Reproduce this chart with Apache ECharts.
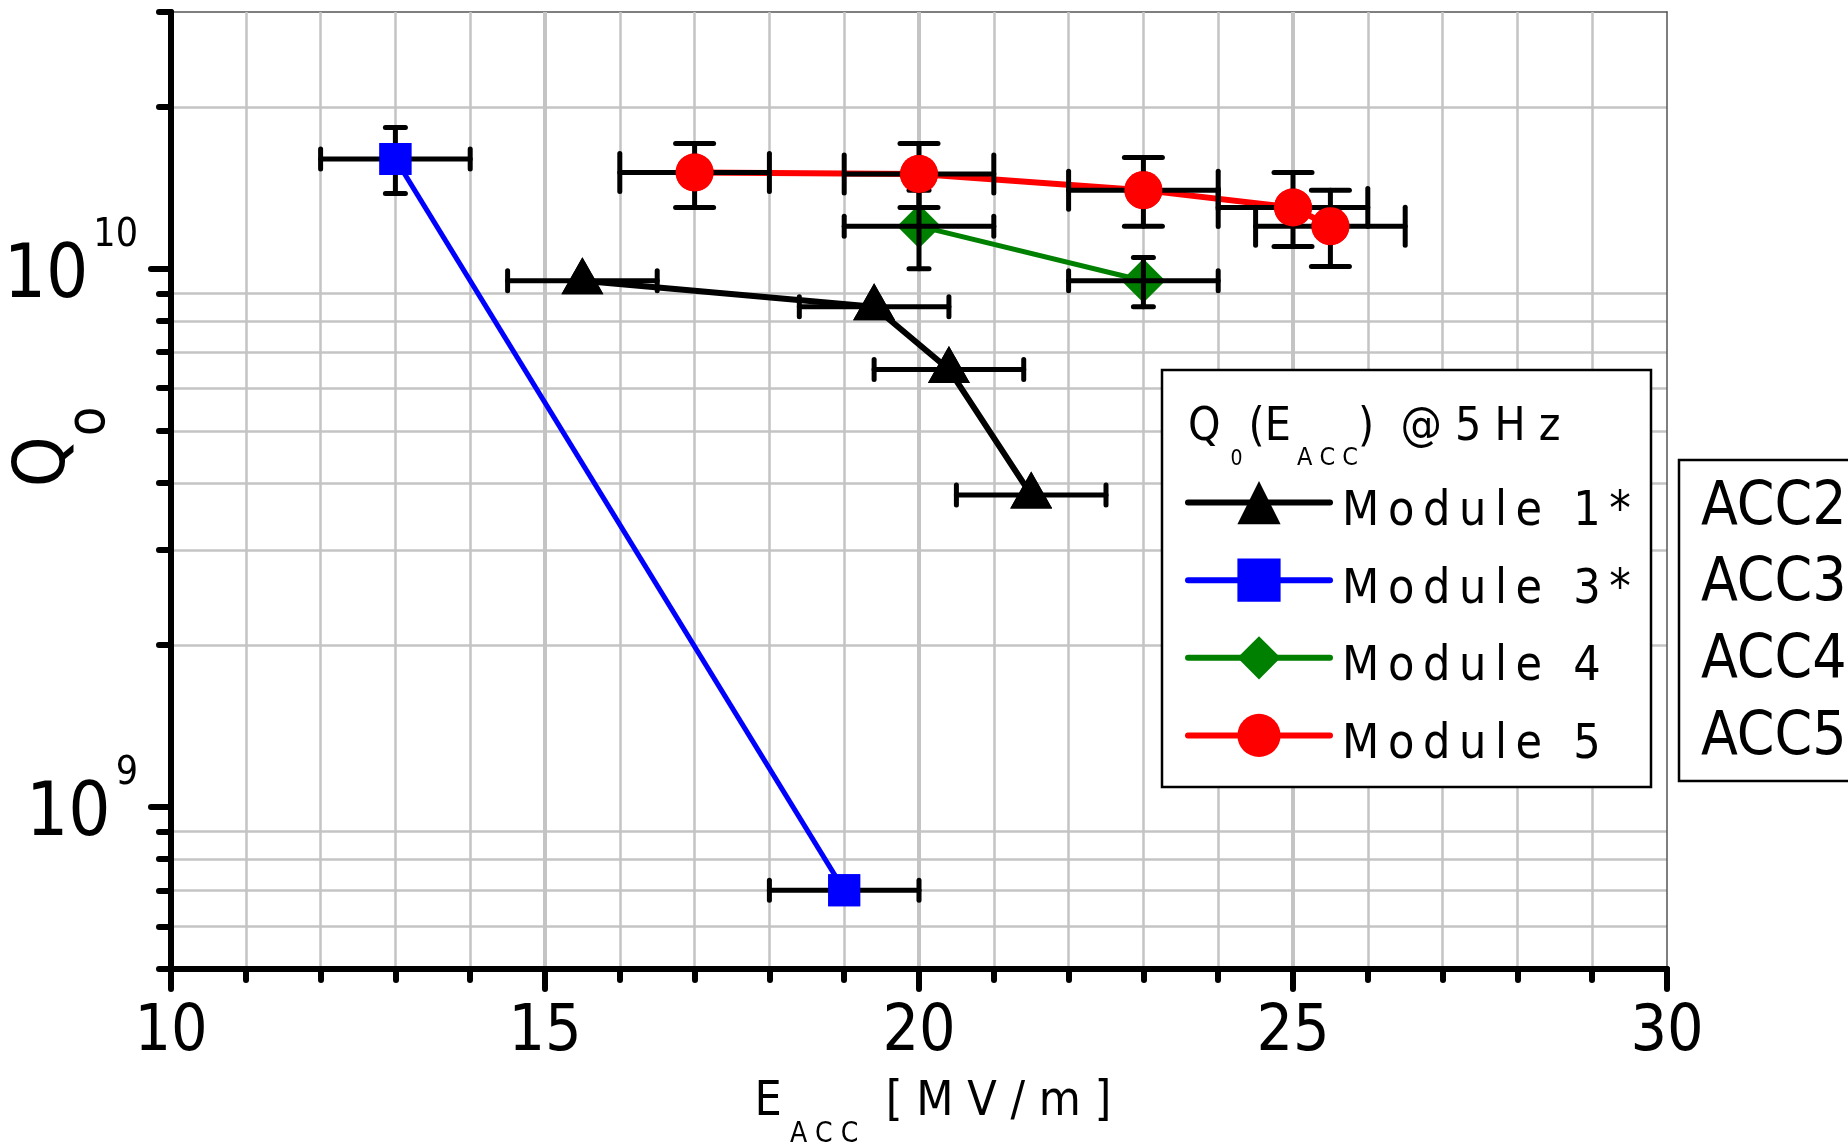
<!DOCTYPE html>
<html>
<head>
<meta charset="utf-8">
<script src="https://cdn.jsdelivr.net/npm/echarts@6/dist/echarts.min.js"></script>
<style>
html,body{margin:0;padding:0;background:#fff;}
#chart{width:1848px;height:1148px;}
</style>
</head>
<body>
<div id="chart"></div>
<script>
// ---------- data ----------
const xTickValues = [10, 15, 20, 25, 30];
const yMajorTicks = [1e9, 1e10];
const yMinorTicks = [5e8, 6e8, 7e8, 8e8, 9e8, 2e9, 3e9, 4e9, 5e9, 6e9, 7e9, 8e9, 9e9, 2e10, 3e10];

const seriesNames = ['Module 1*', 'Module 3*', 'Module 4', 'Module 5'];
const TS = '\u2009';
const legendLabels = [
  ['M','o','d','u','l','e'].join(TS) + ' ' + TS + TS + '1' + TS + '*',
  ['M','o','d','u','l','e'].join(TS) + ' ' + TS + TS + '3' + TS + '*',
  ['M','o','d','u','l','e'].join(TS) + ' ' + TS + TS + '4',
  ['M','o','d','u','l','e'].join(TS) + ' ' + TS + TS + '5'
];
const accLabels = ['ACC2', 'ACC3', 'ACC4', 'ACC5'];

// Module 1*
const m1_E    = [15.5, 19.4, 20.4, 21.5];
const m1_Q    = [9.5e9, 8.5e9, 6.5e9, 3.8e9];
const m1_Elo  = [14.5, 18.4, 19.4, 20.5];
const m1_Ehi  = [16.5, 20.4, 21.4, 22.5];
const m1_Qlo  = [9.5e9, 8.5e9, 6.5e9, 3.8e9];
const m1_Qhi  = [9.5e9, 8.5e9, 6.5e9, 3.8e9];
// Module 3*
const m3_E    = [13, 19];
const m3_Q    = [1.6e10, 7.0e8];
const m3_Elo  = [12, 18];
const m3_Ehi  = [14, 20];
const m3_Qlo  = [1.38e10, 6.85e8];
const m3_Qhi  = [1.83e10, 7.15e8];
// Module 4
const m4_E    = [20, 23];
const m4_Q    = [1.2e10, 9.5e9];
const m4_Elo  = [19, 22];
const m4_Ehi  = [21, 24];
const m4_Qlo  = [1.0e10, 8.5e9];
const m4_Qhi  = [1.4e10, 1.05e10];
// Module 5
const m5_E    = [17, 20, 23, 25, 25.5];
const m5_Q    = [1.51e10, 1.50e10, 1.40e10, 1.30e10, 1.20e10];
const m5_Elo  = [16, 19, 22, 24, 24.5];
const m5_Ehi  = [18, 21, 24, 26, 26.5];
const m5_Qlo  = [1.30e10, 1.30e10, 1.20e10, 1.10e10, 1.01e10];
const m5_Qhi  = [1.71e10, 1.71e10, 1.61e10, 1.51e10, 1.40e10];

// ---------- helpers ----------
const NARROW = "'Liberation Sans Narrow', 'DejaVu Sans Condensed', 'Arial Narrow', sans-serif";
const pts = (E, Q) => E.map((e, i) => [e, Q[i]]);
const errPts = (E, Q, El, Eh, Ql, Qh) => E.map((e, i) => [e, Q[i], El[i], Eh[i], Ql[i], Qh[i]]);

function errRender(capLen) {
  return function (params, api) {
    const x = api.value(0), y = api.value(1);
    const xl = api.value(2), xh = api.value(3), yl = api.value(4), yh = api.value(5);
    const c = api.coord([x, y]);
    const L = api.coord([xl, y]), H = api.coord([xh, y]);
    const st = {stroke: '#000', lineWidth: 5, lineCap: 'round'};
    const h = capLen / 2;
    const ch = [
      {type: 'line', shape: {x1: L[0], y1: c[1], x2: H[0], y2: c[1]}, style: st},
      {type: 'line', shape: {x1: L[0], y1: c[1] - h, x2: L[0], y2: c[1] + h}, style: st},
      {type: 'line', shape: {x1: H[0], y1: c[1] - h, x2: H[0], y2: c[1] + h}, style: st}
    ];
    if (yl !== yh) {
      const B = api.coord([x, yl]), T = api.coord([x, yh]);
      ch.push({type: 'line', shape: {x1: c[0], y1: B[1], x2: c[0], y2: T[1]}, style: st});
      ch.push({type: 'line', shape: {x1: c[0] - h, y1: B[1], x2: c[0] + h, y2: B[1]}, style: st});
      ch.push({type: 'line', shape: {x1: c[0] - h, y1: T[1], x2: c[0] + h, y2: T[1]}, style: st});
    }
    return {type: 'group', children: ch};
  };
}

const mods = [
  {name: seriesNames[0], color: '#000000', lw: 6, symbol: 'triangle', size: [42, 37], off: [0, -5], cap: 20, over: true,
   data: pts(m1_E, m1_Q), err: errPts(m1_E, m1_Q, m1_Elo, m1_Ehi, m1_Qlo, m1_Qhi)},
  {name: seriesNames[1], color: '#0000ff', lw: 5, symbol: 'rect', size: 32, off: [0, 0], cap: 20, over: true,
   data: pts(m3_E, m3_Q), err: errPts(m3_E, m3_Q, m3_Elo, m3_Ehi, m3_Qlo, m3_Qhi)},
  {name: seriesNames[2], color: '#008000', lw: 5, symbol: 'diamond', size: [44, 44], off: [0, 0], cap: 20, over: false,
   data: pts(m4_E, m4_Q), err: errPts(m4_E, m4_Q, m4_Elo, m4_Ehi, m4_Qlo, m4_Qhi)},
  {name: seriesNames[3], color: '#ff0000', lw: 6, symbol: 'circle', size: 38, off: [0, 0], cap: 38, over: true,
   data: pts(m5_E, m5_Q), err: errPts(m5_E, m5_Q, m5_Elo, m5_Ehi, m5_Qlo, m5_Qhi)}
];

const series = [];
mods.forEach(m => {
  series.push({
    type: 'line', name: m.name, data: m.data, z: 2,
    symbol: m.symbol, symbolSize: m.size, symbolOffset: m.off, showSymbol: true,
    itemStyle: {color: m.color}, lineStyle: {color: m.color, width: m.lw},
    animation: false, silent: true
  });
  series.push({
    type: 'custom', name: m.name + ' err', data: m.err, z: 3,
    encode: {x: 0, y: 1}, renderItem: errRender(m.cap), animation: false, silent: true
  });
  if (m.over) {
    series.push({
      type: 'scatter', name: m.name + ' mk', data: m.data, z: 4,
      symbol: m.symbol, symbolSize: m.size, symbolOffset: m.off,
      itemStyle: {color: m.color, opacity: 1}, animation: false, silent: true
    });
  }
});

const gridColor = '#c4c4c4';
const blackLine = {color: '#000', width: 6, cap: 'round'};

const option = {
  backgroundColor: '#fff',
  animation: false,
  grid: {left: 171, right: 181, top: 12, bottom: 179, containLabel: false, outerBoundsMode: 'none', show: false},
  xAxis: [{
    type: 'value', min: xTickValues[0], max: xTickValues[xTickValues.length - 1], interval: 5, position: 'bottom', z: 1,
    axisLine: {show: true, onZero: false, lineStyle: blackLine},
    axisTick: {show: true, length: 20, lineStyle: blackLine},
    minorTick: {show: true, splitNumber: 5, length: 11, lineStyle: blackLine},
    splitLine: {show: true, showMinLine: false, showMaxLine: false, lineStyle: {color: gridColor, width: 4}},
    minorSplitLine: {show: true, lineStyle: {color: gridColor, width: 2.5}},
    axisLabel: {fontSize: 64, margin: 32, color: '#000', fontFamily: NARROW},
    name: '{e|E}{s| A C C}{u|  [ M V / m ]}',
    nameLocation: 'middle', nameGap: 88, nameMoveOverlap: false,
    nameTextStyle: {
      color: '#000', fontFamily: NARROW, padding: [0, 0, 0, 28],
      rich: {
        e: {fontSize: 48, fontFamily: NARROW, color: '#000'},
        s: {fontSize: 28, fontFamily: NARROW, color: '#000', padding: [64, 0, 0, 0]},
        u: {fontSize: 48, fontFamily: NARROW, color: '#000'}
      }
    }
  }, {
    type: 'value', min: 10, max: 30, position: 'top', gridIndex: 0,
    axisLine: {show: true, onZero: false, lineStyle: {color: '#555', width: 1.5}},
    axisTick: {show: false}, axisLabel: {show: false}, splitLine: {show: false}
  }],
  yAxis: [{
    type: 'log', logBase: 10, min: 5e8, max: 3e10, position: 'left', z: 1,
    axisLine: {show: true, onZero: false, lineStyle: blackLine},
    axisTick: {show: true, customValues: yMajorTicks, length: 20, lineStyle: blackLine},
    axisLabel: {
      customValues: yMajorTicks, margin: 33, color: '#000',
      formatter: v => '{a|10}{b|' + Math.round(Math.log10(v)) + '}',
      rich: {
        a: {fontSize: 74, fontFamily: NARROW, color: '#000', padding: [17, 0, 0, 0]},
        b: {fontSize: 39, fontFamily: NARROW, color: '#000', padding: [0, 0, 66, 5]}
      }
    },
    splitLine: {show: true, showMinLine: false, showMaxLine: false, lineStyle: {color: gridColor, width: 4}},
    minorTick: {show: false}, minorSplitLine: {show: false},
    name: '{q|Q}{o|o}', nameLocation: 'middle', nameRotate: 90, nameGap: 54, nameMoveOverlap: false,
    nameTextStyle: {
      padding: [0, 0, 0, 87],
      rich: {
        q: {fontSize: 72, fontFamily: NARROW, color: '#000'},
        o: {fontSize: 54, fontFamily: NARROW, color: '#000', padding: [90, 0, 0, 0]}
      }
    }
  }, {
    type: 'log', logBase: 10, min: 5e8, max: 3e10, position: 'left', z: 0,
    axisLine: {show: false},
    axisTick: {show: true, customValues: yMinorTicks, length: 12, lineStyle: blackLine},
    axisLabel: {show: false},
    splitLine: {show: true, showMinLine: false, showMaxLine: false, lineStyle: {color: gridColor, width: 2.5}}
  }, {
    type: 'log', logBase: 10, min: 5e8, max: 3e10, position: 'right',
    axisLine: {show: true, onZero: false, lineStyle: {color: '#555', width: 1.5}},
    axisTick: {show: false}, axisLabel: {show: false}, splitLine: {show: false}
  }],
  legend: {
    data: seriesNames, orient: 'vertical', left: 1180, top: 476,
    itemWidth: 142, itemHeight: 54, itemGap: 22, z: 12, selectedMode: false,
    formatter: name => '{t|' + legendLabels[seriesNames.indexOf(name)] + '}',
    textStyle: {
      color: '#000', fontSize: 48, fontFamily: NARROW,
      rich: {t: {fontSize: 48, fontFamily: NARROW, color: '#000', padding: [20, 0, 0, 7]}}
    },
    lineStyle: {width: 6, cap: 'round'}
  },
  graphic: [
    {type: 'rect', z: 10, shape: {x: 1162, y: 370, width: 489, height: 417},
     style: {fill: '#fff', stroke: '#000', lineWidth: 2.5}},
    {type: 'text', z: 11, x: 1188, y: 428,
     style: {
       text: '{q|Q}{s|0}{p|(E}{a|A C C}{p|)  @ 5 H z}',
       verticalAlign: 'middle', align: 'left',
       rich: {
         q: {fontSize: 46, fontFamily: NARROW, fill: '#000'},
         s: {fontSize: 21, fontFamily: NARROW, fill: '#000', padding: [64, 6, 0, 10]},
         p: {fontSize: 46, fontFamily: NARROW, fill: '#000'},
         a: {fontSize: 25, fontFamily: NARROW, fill: '#000', padding: [60, 0, 0, 6]}
       }
     }},
    {type: 'rect', z: 10, shape: {x: 1679, y: 460, width: 300, height: 321},
     style: {fill: '#fff', stroke: '#000', lineWidth: 2.5}},
    ...accLabels.map((t, i) => ({
      type: 'text', z: 11, x: 1701, y: 508 + i * 76.7,
      style: {text: t, fontSize: 60, fontFamily: NARROW, fill: '#000', verticalAlign: 'middle', align: 'left'}
    }))
  ],
  series: series
};

const chart = echarts.init(document.getElementById('chart'), null, {renderer: 'canvas'});
chart.setOption(option);
</script>
</body>
</html>
